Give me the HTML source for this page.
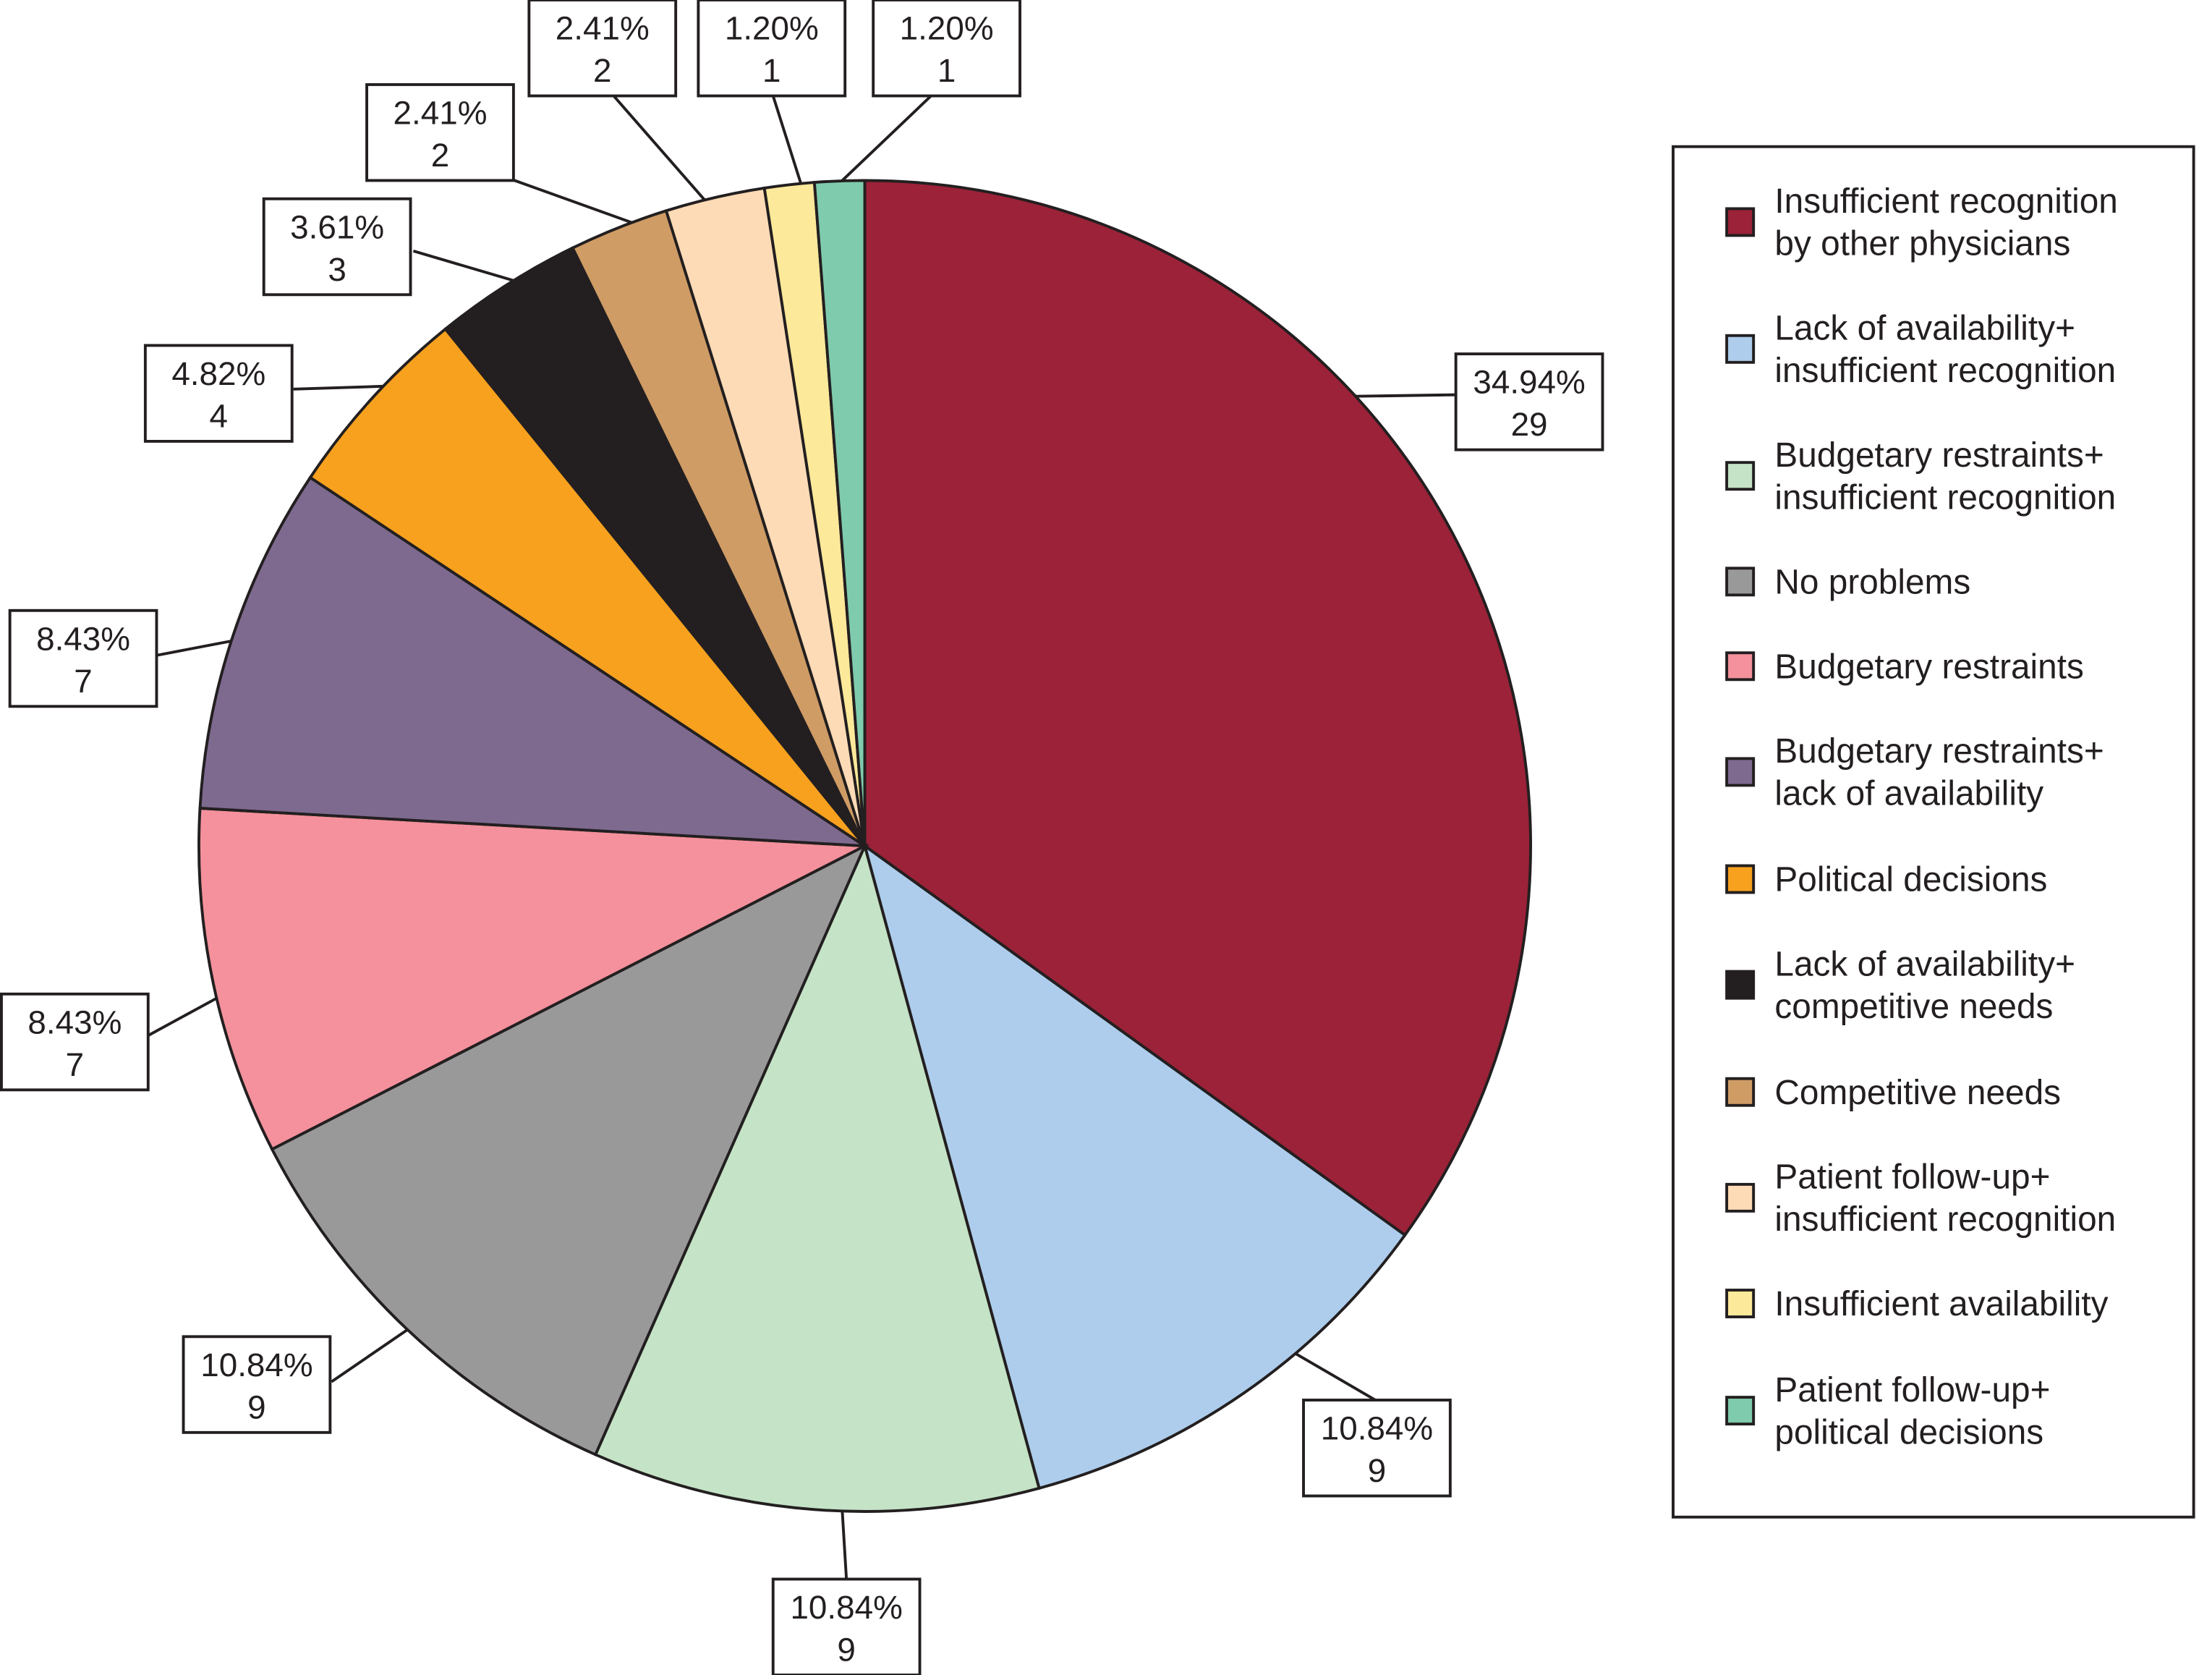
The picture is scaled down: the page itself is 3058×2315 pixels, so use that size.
<!DOCTYPE html>
<html><head><meta charset="utf-8"><style>
html,body{margin:0;padding:0;background:#fff;}
svg{display:block;font-family:"Liberation Sans",sans-serif;}
</style></head><body>
<svg id="chart" width="3058" height="2315" viewBox="0 0 1568 1188" preserveAspectRatio="none" xmlns="http://www.w3.org/2000/svg">
<g id="slices"></g>
<g id="labels"></g>
<g id="legend">
<rect x="1186" y="104" width="369" height="972" fill="#fff" stroke="#231f20" stroke-width="2"/>
</g>
</svg>
<script>
const categories = [
 ["Insufficient recognition","by other physicians"],
 ["Lack of availability+","insufficient recognition"],
 ["Budgetary restraints+","insufficient recognition"],
 ["No problems"],
 ["Budgetary restraints"],
 ["Budgetary restraints+","lack of availability"],
 ["Political decisions"],
 ["Lack of availability+","competitive needs"],
 ["Competitive needs"],
 ["Patient follow-up+","insufficient recognition"],
 ["Insufficient availability"],
 ["Patient follow-up+","political decisions"]
];
const counts = [29, 9, 9, 9, 7, 7, 4, 3, 2, 2, 1, 1];
const percentLabels = ["34.94%","10.84%","10.84%","10.84%","8.43%","8.43%","4.82%","3.61%","2.41%","2.41%","1.20%","1.20%"];
const colors = ["#9b2238","#aecdec","#c5e3c6","#999999","#f4919c","#7e6a8f","#f7a11e","#231f20","#cf9c65","#fddbb6","#fde99a","#7fcbad"];
// layout (not data): label box top-left, leader end point, leader anchor offset (deg) from slice middle
const boxLayout = [[1032,251],[924,993],[548,1120],[130,948],[1,705],[7,433],[103,245],[187,141],[260,60],[375,0],[495,0],[619,0]];
const leaderEnd = [[1032,280],[975,993],[600,1120],[235,980],[104,735],[110,465],[208,276],[293,178],[362,127],[435,68],[548,68],[660,68]];
const leaderShift = [-15.4,-5.6,-2.4,0,-1.3,-0.5,1.4,0.7,1.2,-0.9,1,0.2];
const legendY = [158,248,338,413,473,548,624,699,775,850,925,1001];

const NS="http://www.w3.org/2000/svg";
const cx=613, cy=600, R=472;
const total = counts.reduce((a,b)=>a+b,0);
function pt(a,r){return [cx+r*Math.sin(a), cy-r*Math.cos(a)];}
const sl=document.getElementById('slices'), lb=document.getElementById('labels'), lg=document.getElementById('legend');
let acc=0;
counts.forEach((c,i)=>{
  const a0=acc/total*2*Math.PI; acc+=c; const a1=acc/total*2*Math.PI;
  const p0=pt(a0,R), p1=pt(a1,R);
  const large=(a1-a0)>Math.PI?1:0;
  const path=document.createElementNS(NS,'path');
  path.setAttribute('d',`M${cx},${cy} L${p0[0]},${p0[1]} A${R},${R} 0 ${large} 1 ${p1[0]},${p1[1]} Z`);
  path.setAttribute('fill',colors[i]); path.setAttribute('stroke','#231f20'); path.setAttribute('stroke-width','2');
  
  
  sl.appendChild(path);
  const am=(a0+a1)/2 + leaderShift[i]*Math.PI/180, pm=pt(am,R);
  const bx=boxLayout[i][0], by=boxLayout[i][1], bw=104, bh=68;
  const ln=document.createElementNS(NS,'line');
  ln.setAttribute('x1',pm[0]);ln.setAttribute('y1',pm[1]);ln.setAttribute('x2',leaderEnd[i][0]);ln.setAttribute('y2',leaderEnd[i][1]);
  ln.setAttribute('stroke','#231f20');ln.setAttribute('stroke-width','2');
  
  
  lb.appendChild(ln);
  const rc=document.createElementNS(NS,'rect');
  rc.setAttribute('x',bx);rc.setAttribute('y',by);rc.setAttribute('width',bw);rc.setAttribute('height',bh);
  rc.setAttribute('fill','#fff');rc.setAttribute('stroke','#231f20');rc.setAttribute('stroke-width','2');
  
  
  lb.appendChild(rc);
  [percentLabels[i], String(c)].forEach((s,k)=>{
    const t=document.createElementNS(NS,'text');
    t.setAttribute('x',bx+bw/2);t.setAttribute('y',by+28+k*30);
    t.setAttribute('text-anchor','middle');t.setAttribute('font-size','23.5');t.setAttribute('fill','#231f20');
    t.textContent=s;
    
    
    lb.appendChild(t);
  });
  const yc=legendY[i];
  const sw=document.createElementNS(NS,'rect');
  sw.setAttribute('x',1224);sw.setAttribute('y',yc-10);sw.setAttribute('width',19);sw.setAttribute('height',19);
  sw.setAttribute('fill',colors[i]);sw.setAttribute('stroke','#231f20');sw.setAttribute('stroke-width','2');
  
  
  lg.appendChild(sw);
  const lines=categories[i];
  lines.forEach((s,k)=>{
    const t=document.createElementNS(NS,'text');
    t.setAttribute('x',1258);
    t.setAttribute('y',yc+8+(k-(lines.length-1)/2)*30);
    t.setAttribute('font-size','24.5');t.setAttribute('fill','#231f20');
    t.textContent=s;
    
    
    lg.appendChild(t);
  });
});
</script>
</body></html>
